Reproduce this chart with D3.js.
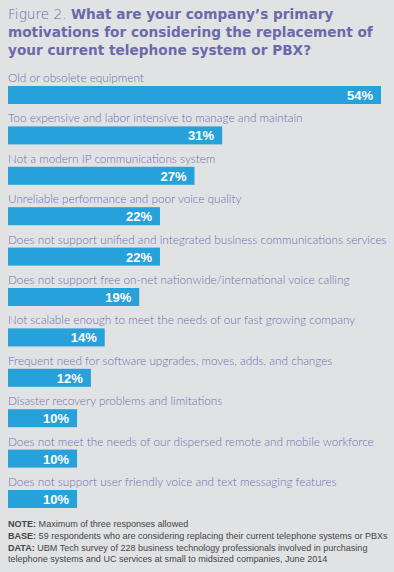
<!DOCTYPE html>
<html>
<head>
<meta charset="utf-8">
<script src="https://cdn.jsdelivr.net/npm/d3@7"></script>
<style>
  html, body { margin: 0; padding: 0; background: #e1e2e4; }
  svg { display: block; }
</style>
</head>
<body>
<script>
var svgWidth = 394;
var svgHeight = 572;

// data
var categories = [
    "Old or obsolete equipment",
    "Too expensive and labor intensive to manage and maintain",
    "Not a modern IP communications system",
    "Unreliable performance and poor voice quality",
    "Does not support unified and integrated business communications services",
    "Does not support free on-net nationwide/international voice calling",
    "Not scalable enough to meet the needs of our fast growing company",
    "Frequent need for software upgrades, moves, adds, and changes",
    "Disaster recovery problems and limitations",
    "Does not meet the needs of our dispersed remote and mobile workforce",
    "Does not support user friendly voice and text messaging features"
];
var values = [54, 31, 27, 22, 22, 19, 14, 12, 10, 10, 10];

var titleLines = [
    ["Figure 2. ", "What are your company\u2019s primary"],
    ["", "motivations for considering the replacement of"],
    ["", "your current telephone system or PBX?"]
];
var notes = [
    ["NOTE:", " Maximum of three responses allowed"],
    ["BASE:", " 59 respondents who are considering replacing their current telephone systems or PBXs"],
    ["DATA:", " UBM Tech survey of 228 business technology professionals involved in purchasing"],
    ["", "telephone systems and UC services at small to midsized companies, June 2014"]
];

var svg = d3.select("body")
    .append("svg")
    .attr("width", svgWidth)
    .attr("height", svgHeight);

svg.append("rect")
    .attr("width", svgWidth)
    .attr("height", svgHeight)
    .attr("fill", "#e1e2e4");

// shrink/grow a font size so a given text element hits a target width
function fitSize(sel, base, target) {
    sel.attr("font-size", base);
    var w = sel.node().getComputedTextLength();
    var size = base * target / w;
    sel.attr("font-size", size);
    return size;
}

// Title
var titleGroup = svg.append("g");
var titleBaselines = [19, 37, 54.5];
var titleTexts = titleGroup.selectAll("text")
    .data(titleLines)
    .enter()
    .append("text")
    .attr("x", 8)
    .attr("y", (d, i) => titleBaselines[i])
    .attr("fill", "#6a69aa")
    .attr("font-family", "'DejaVu Sans', Lato, sans-serif");
titleTexts.append("tspan")
    .attr("font-weight", 200)
    .text(d => d[0]);
titleTexts.append("tspan")
    .attr("font-weight", "bold")
    .text(d => d[1]);
var tSize = fitSize(d3.select(titleTexts.nodes()[1]), 15, 365);
titleTexts.attr("font-size", tSize);

// scales
var x = d3.scaleLinear()
    .domain([0, d3.max(values)])
    .range([0, 373]);

var y = d3.scaleBand()
    .domain(categories)
    .range([66, 66 + 40.4 * categories.length]);

var chartGroup = svg.append("g")
    .attr("transform", "translate(8, 0)");

var rows = chartGroup.selectAll("g.row")
    .data(categories)
    .enter()
    .append("g")
    .attr("class", "row")
    .attr("transform", d => `translate(0, ${y(d)})`);

var labelTexts = rows.append("text")
    .attr("x", 0)
    .attr("y", 16)
    .attr("fill", "#6f6fb3")
    .attr("font-family", "Lato, 'Open Sans', sans-serif")
    .attr("font-weight", 300)
    .text(d => d);
var lSize = fitSize(d3.select(labelTexts.nodes()[4]), 12, 379);
labelTexts.attr("font-size", lSize);

rows.append("rect")
    .attr("x", 0)
    .attr("y", 20)
    .attr("width", (d, i) => x(values[i]))
    .attr("height", 18)
    .attr("fill", "#27a1da");

rows.append("text")
    .attr("x", (d, i) => x(values[i]) - 8)
    .attr("y", 34)
    .attr("text-anchor", "end")
    .attr("fill", "#ffffff")
    .attr("font-family", "'Liberation Sans', Arial, sans-serif")
    .attr("font-weight", "bold")
    .attr("font-size", 13)
    .text((d, i) => values[i] + "%");

// Footnotes
var noteBaselines = [527, 539, 550.5, 562];
var noteTexts = svg.append("g").selectAll("text")
    .data(notes)
    .enter()
    .append("text")
    .attr("x", 8)
    .attr("y", (d, i) => noteBaselines[i])
    .attr("fill", "#454545")
    .attr("font-family", "'Liberation Sans Narrow', 'Liberation Sans', Arial, sans-serif");
noteTexts.append("tspan")
    .attr("font-weight", "bold")
    .text(d => d[0]);
noteTexts.append("tspan")
    .text(d => d[1]);
var nSize = fitSize(d3.select(noteTexts.nodes()[1]), 10, 380);
noteTexts.attr("font-size", nSize);
</script>
</body>
</html>
